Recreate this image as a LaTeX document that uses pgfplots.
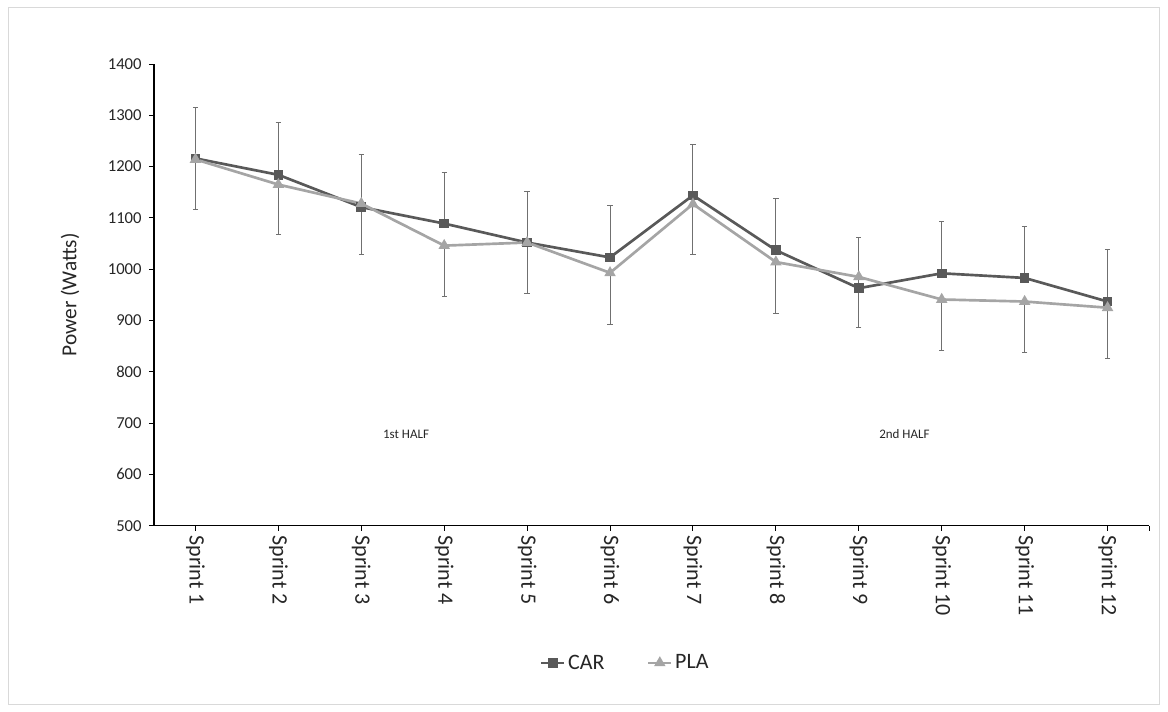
\documentclass[border=0pt]{standalone}
\usepackage{fontspec}
\setmainfont{Carlito}
\usepackage{pgfplots}
\pgfplotsset{compat=1.18}
\definecolor{car}{HTML}{595959}
\definecolor{pla}{HTML}{A5A5A5}
\definecolor{errc}{HTML}{707070}
\begin{document}
\begin{tikzpicture}
\path[use as bounding box] (-115.5bp,-139bp) rectangle (760.5bp,394.3bp);
\draw[black!15, line width=0.75bp] (-108.75bp,-133.7bp) rectangle (753.75bp,389bp);
\begin{axis}[
  at={(0,0)}, anchor=south west,
  scale only axis, width=746.25bp, height=346.3bp,
  xmin=0.5, xmax=12.5, ymin=500, ymax=1400,
  xtick={1,...,12},
  xticklabels={Sprint 1,Sprint 2,Sprint 3,Sprint 4,Sprint 5,Sprint 6,Sprint 7,Sprint 8,Sprint 9,Sprint 10,Sprint 11,Sprint 12},
  extra x ticks={12.5}, extra x tick labels={},
  ytick={500,600,...,1400},
  axis lines*=left,
  tick align=outside, major tick length=3.75bp,
  tick style={black, line width=0.75bp},
  axis line style={black, line width=1bp},
  xticklabel style={rotate=-90, anchor=west, font=\fontsize{16.5bp}{18bp}\selectfont, text=black!85},
  yticklabel style={font=\fontsize{12.5bp}{14bp}\selectfont, text=black!85, xshift=-2bp},
  /pgf/number format/assume math mode=true,
  /pgf/number format/set thousands separator={},
  ylabel={Power (Watts)},
  ylabel style={at={(axis description cs:-0.0844,0.5)}, anchor=center, font=\fontsize{16bp}{18bp}\selectfont, text=black!85},
  legend entries={CAR,PLA},
  legend style={draw=none, at={(0.474,-0.297)}, anchor=center, legend columns=2,
    font=\fontsize{16.5bp}{18bp}\selectfont, text=black!85,
    /tikz/every even column/.append style={column sep=30bp}},
]
\addplot[car, line width=2bp, mark=square*, mark size=2.6bp, mark options={solid},
  error bars/.cd, y dir=plus, y explicit,
  error bar style={errc, line width=0.75bp},
  error mark options={rotate=90, mark size=2bp, errc, line width=0.75bp}]
  table[x=x, y=y, y error=e] {
x y e
1 1216 100
2 1184 102
3 1121 102
4 1089 99
5 1052 100
6 1023 101
7 1144 100
8 1037 100
9 963 99
10 992 101
11 983 100
12 937 101
};
\addplot[pla, line width=2bp, mark=triangle*, mark size=3bp, mark options={solid},
  error bars/.cd, y dir=minus, y explicit,
  error bar style={errc, line width=0.75bp},
  error mark options={rotate=90, mark size=2bp, errc, line width=0.75bp}]
  table[x=x, y=y, y error=e] {
x y e
1 1214 97
2 1165 98
3 1128 99
4 1046 100
5 1052 99
6 993 101
7 1127 98
8 1014 101
9 985 98
10 941 100
11 937 99
12 925 100
};
\node[font=\fontsize{9.75bp}{11bp}\selectfont, text=black!85] at (axis cs:3.54,679) {1st HALF};
\node[font=\fontsize{9.75bp}{11bp}\selectfont, text=black!85] at (axis cs:9.55,679) {2nd HALF};
\end{axis}
\end{tikzpicture}
\end{document}
